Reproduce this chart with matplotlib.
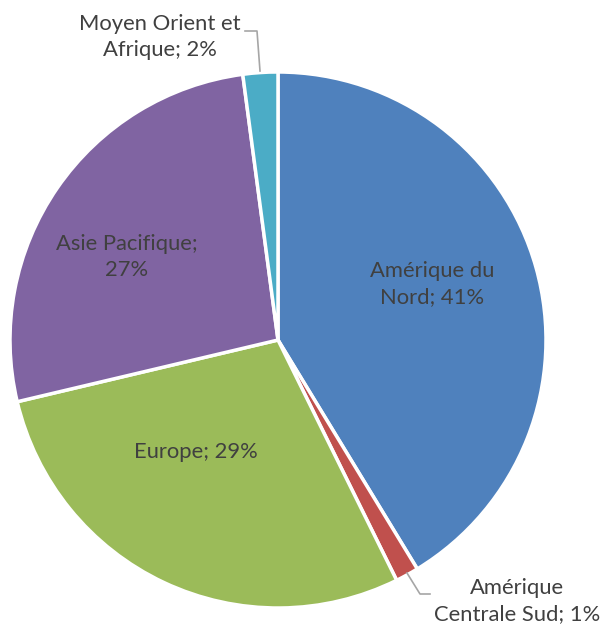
import matplotlib
matplotlib.use("Agg")
import matplotlib.pyplot as plt

# parts des régions (%)
regions = ["Amérique du\nNord", "Amérique\nCentrale Sud", "Europe", "Asie Pacifique;\n", "Moyen Orient et\nAfrique"]
parts = [41.3, 1.4, 28.6, 26.6, 2.1]
couleurs = ["#4F81BD", "#C0504D", "#9BBB59", "#8064A2", "#4BACC6"]

plt.rcParams['font.family'] = ['Lato', 'DejaVu Sans']
gris = "#404040"

fig = plt.figure(figsize=(6.01, 6.27), dpi=100)
cx, cy, r = 278, 340, 268
ax = fig.add_axes([(cx - r) / 601, (627 - cy - r) / 627, 2 * r / 601, 2 * r / 627])

ax.pie(parts, colors=couleurs, startangle=90, counterclock=False, radius=1,
       wedgeprops=dict(edgecolor="white", linewidth=2.5))
ax.set_xlim(-1, 1)
ax.set_ylim(-1, 1)
ax.set_aspect("equal")
ax.axis("off")

def px(x, y):
    return (x - cx) / r, (cy - y) / r

pos = [(432, 284), (517, 601), (196, 452), (127, 257), (160, 37)]
sep = ["; ", "; ", "; ", "", "; "]
for nom, p, s, (x, y) in zip(regions, parts, sep, pos):
    txt = "%s%s%d%%" % (nom, s, round(p))
    ax.text(*px(x, y), txt, ha="center", va="center", fontsize=15.8,
            color=gris, linespacing=1.4, clip_on=False)

# traits de rappel
l1 = [px(245, 31), px(257, 31), px(260, 71)]
l2 = [px(407, 573), px(420, 594), px(430, 594)]
for l in (l1, l2):
    ax.plot([p[0] for p in l], [p[1] for p in l], color="#A6A6A6", lw=1.2, clip_on=False)

fig.savefig("out.png", dpi=100)
